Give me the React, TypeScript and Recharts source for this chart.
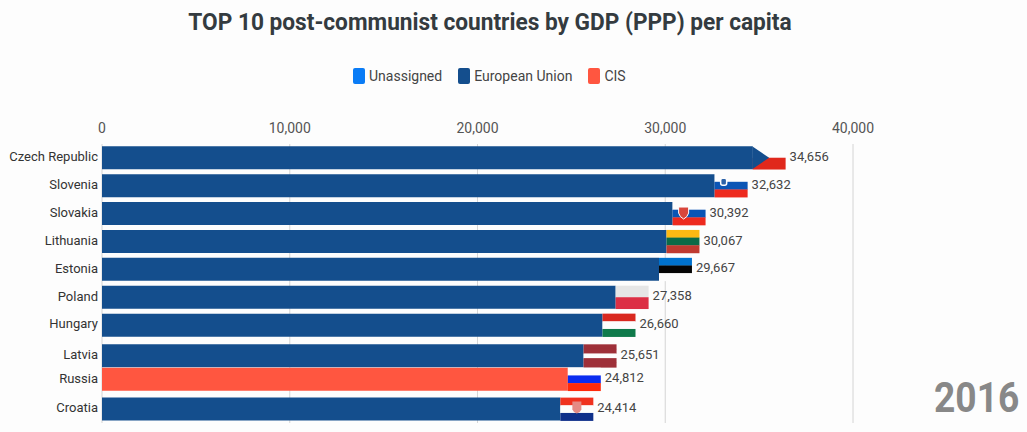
import { BarChart, Bar, XAxis, YAxis, CartesianGrid, Legend, LabelList } from "recharts";

const FONT = "Roboto, sans-serif";

const countries = ["Czech Republic", "Slovenia", "Slovakia", "Lithuania", "Estonia", "Poland", "Hungary", "Latvia", "Russia", "Croatia"];
const gdp = [34656, 32632, 30392, 30067, 29667, 27358, 26660, 25651, 24812, 24414];
const blocs = ["eu", "eu", "eu", "eu", "eu", "eu", "eu", "eu", "cis", "eu"];
// the frame is caught mid-animation, so Latvia and Russia sit between ranks
const ranks = [0, 1, 2, 3, 4, 5, 6, 7.1, 7.94, 9.01];
const xTicks = [0, 10000, 20000, 30000, 40000];
const legendOrder = ["unassigned", "eu", "cis"];
const legendLabels = ["Unassigned", "European Union", "CIS"];

const flagSpan = 1755;
const flagStripes: Record<string, string[]> = {
  "Czech Republic": ["#fdfdfd", "#e0281c"],
  Slovenia: ["#fdfdfd", "#0b55b5", "#ee2a1e"],
  Slovakia: ["#fdfdfd", "#0b55b5", "#ee2a1e"],
  Lithuania: ["#fdb913", "#0b6a47", "#bf3a30"],
  Estonia: ["#0072ce", "#050505", "#fdfdfd"],
  Poland: ["#e6e6e6", "#dc2f45"],
  Hungary: ["#d9281f", "#fdfdfd", "#0f7a4b"],
  Latvia: ["#9e3039", "#9e3039", "#fdfdfd", "#9e3039", "#9e3039"],
  Russia: ["#fdfdfd", "#0a2cf0", "#ff2a0a"],
  Croatia: ["#f0321f", "#fdfdfd", "#10308a"],
};

const rows = countries.map((name, i) => ({
  name,
  rank: ranks[i],
  gdp: gdp[i],
  unassigned: 0,
  eu: blocs[i] === "eu" ? gdp[i] : 0,
  cis: blocs[i] === "cis" ? gdp[i] : 0,
  flag: flagSpan,
}));

function FlagShape(props: any) {
  const { x, y, width, height, payload } = props;
  const stripes = flagStripes[payload.name];
  const h = height / stripes.length;
  const cy = y + height / 2;
  return (
    <g>
      {stripes.map((c, i) => (
        <rect key={i} x={x} y={y + i * h} width={width} height={h + 0.3} fill={c} />
      ))}
      {payload.name === "Czech Republic" && (
        <path d={`M${x - 0.5},${y} L${x + width * 0.5},${cy} L${x - 0.5},${y + height} Z`} fill="#144e8d" />
      )}
      {payload.name === "Slovenia" && (
        <rect x={x + 6} y={y + 4} width={6} height={7} rx={2} fill="#2c62a8" stroke="#fdfdfd" strokeWidth={1.5} />
      )}
      {payload.name === "Slovakia" && (
        <path d={`M${x + 6},${y + 5} h10 v6 q-1,4 -5,6 q-4,-2 -5,-6 Z`} fill="#d9463c" stroke="#fdfdfd" strokeWidth={1} />
      )}
      {payload.name === "Croatia" && (
        <path d={`M${x + 12},${y + 4} h9 v8 q-1,3 -4.5,4 q-3.5,-1 -4.5,-4 Z`} fill="#e58a84" />
      )}
    </g>
  );
}

function LegendRow({ payload }: any) {
  return (
    <div style={{ display: "flex", gap: 16, fontFamily: FONT, fontSize: 14, color: "#444", whiteSpace: "nowrap" }}>
      {legendOrder.map((key, i) => {
        const item = (payload || []).find((p: any) => p.dataKey === key);
        return (
          <div key={key} style={{ display: "flex", alignItems: "center", gap: 4 }}>
            <span style={{ width: 12, height: 16, borderRadius: 2, background: item?.color, display: "inline-block" }} />
            <span>{legendLabels[i]}</span>
          </div>
        );
      })}
    </div>
  );
}

export default function App() {
  return (
    <div style={{ position: "absolute", left: 0, top: 0, width: 1027, height: 432, background: "#fdfdfd", overflow: "hidden" }}>
      <div style={{ position: "absolute", top: 8, left: 0, width: 980, textAlign: "center", fontFamily: FONT, fontWeight: 700, fontSize: 24, color: "#343b40", whiteSpace: "nowrap", transform: "scaleX(0.944)" }}>
        TOP 10 post-communist countries by GDP (PPP) per capita
      </div>
      <BarChart
        width={1027}
        height={432}
        data={rows}
        layout="vertical"
        barSize={23}
        margin={{ top: 120, right: 174, left: 0, bottom: 9 }}
      >
        <CartesianGrid horizontal={false} stroke="#d6d6d6" />
        <XAxis
          type="number"
          orientation="top"
          domain={[0, 40000]}
          ticks={xTicks}
          height={24}
          axisLine={false}
          tickLine={false}
          tickMargin={5}
          tickFormatter={(v: number) => v.toLocaleString("en-US")}
          tick={{ fontSize: 14, fontFamily: FONT, fill: "#555" }}
        />
        <YAxis
          type="number"
          dataKey="rank"
          domain={[-0.5, 9.5]}
          ticks={ranks}
          interval={0}
          width={102}
          axisLine={false}
          tickLine={false}
          tickSize={0}
          tickMargin={4}
          tickFormatter={(v: number) => countries[ranks.indexOf(v)]}
          tick={{ fontSize: 13, fontFamily: FONT, fill: "#333", dy: -1.5 }}
        />
        <Legend
          content={<LegendRow />}
          layout="horizontal"
          verticalAlign="middle"
          align="center"
          wrapperStyle={{ top: 68, left: 353, width: 300, bottom: "auto", right: "auto" }}
        />
        <Bar dataKey="unassigned" stackId="gdp" fill="#0a7cf6" isAnimationActive={false} />
        <Bar dataKey="eu" stackId="gdp" fill="#144e8d" isAnimationActive={false} />
        <Bar dataKey="cis" stackId="gdp" fill="#ff5640" isAnimationActive={false} />
        <Bar dataKey="flag" stackId="gdp" legendType="none" shape={<FlagShape />} isAnimationActive={false}>
          <LabelList
            dataKey="gdp"
            position="right"
            offset={4}
            formatter={(v: number) => v.toLocaleString("en-US")}
            style={{ fontSize: 13, fontFamily: FONT, fill: "#444", transform: "translateY(-1.5px)" }}
          />
        </Bar>
        <CartesianGrid horizontal={false} stroke="rgba(220,220,220,0.1)" />
      </BarChart>
      <div style={{ position: "absolute", top: 374, left: 934, fontFamily: FONT, fontWeight: 700, fontSize: 42, color: "#888", lineHeight: "48px", transform: "scaleX(0.885)", transformOrigin: "left center" }}>
        2016
      </div>
    </div>
  );
}
